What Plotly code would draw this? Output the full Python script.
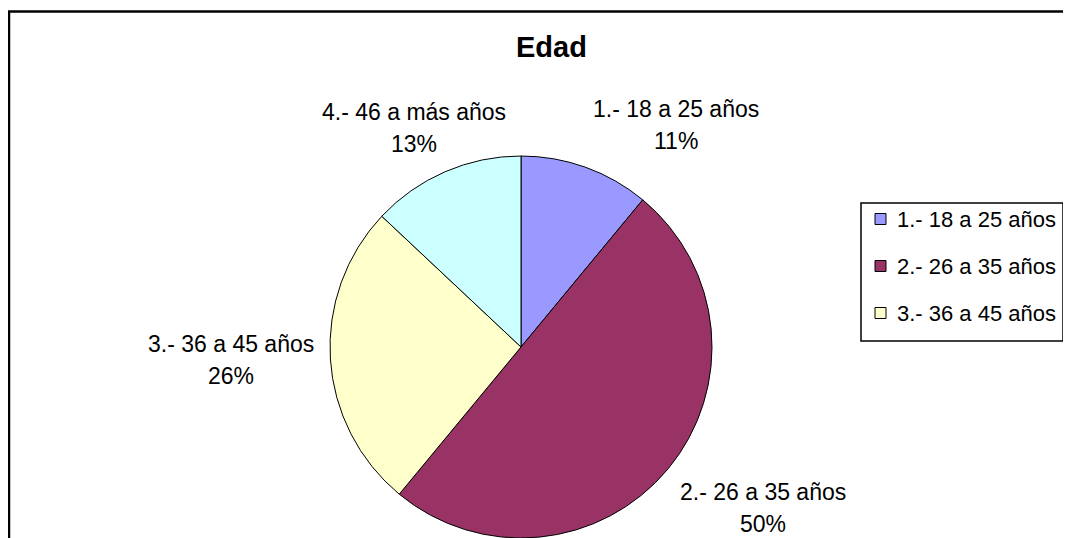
import math
import plotly.graph_objects as go

# ---- data ----
categories = ["1.- 18 a 25 años", "2.- 26 a 35 años", "3.- 36 a 45 años", "4.- 46 a más años"]
values = [11, 50, 26, 13]
colors = ["#9999FF", "#993366", "#FFFFCC", "#CCFFFF"]
title_text = "Edad"

# ---- layout constants (page pixels) ----
PAGE_W, PAGE_H = 1071, 538
OFF = 8                       # default body margin of the html page
W, H = PAGE_W - OFF, PAGE_H - OFF
CX, CY, R = 521, 347, 191
FONT = "Liberation Sans, Arial, sans-serif"
LABEL_SIZE = 23
LEGEND_SIZE = 22
TITLE_SIZE = 29
LINE_GAP = 32
LABEL_GAP = 20
# per-label nudges (dx, dy) from the mid-angle anchor point to the label block centre
label_nudge = [(84, -15), (79, 35), (-79, 8), (-23, -17)]
legend_shown = 3


def px(x):
    return (x - OFF) / W


def py(y):
    return 1 - (y - OFF) / H


fig = go.Figure()
fig.add_trace(go.Pie(
    labels=categories,
    values=values,
    sort=False,
    direction="clockwise",
    rotation=0,
    marker=dict(colors=colors, line=dict(color="black", width=1)),
    textinfo="none",
    hoverinfo="label+percent",
    showlegend=False,
    domain=dict(x=[px(CX - R), px(CX + R)], y=[0, (2 * R) / H]),
))

annotations = []
total = sum(values)
cum = 0
for i, (lab, v) in enumerate(zip(categories, values)):
    mid = (cum + v / 2) / total * 2 * math.pi
    cum += v
    ax = CX + (R + LABEL_GAP) * math.sin(mid) + label_nudge[i][0]
    ay = CY - (R + LABEL_GAP) * math.cos(mid) + label_nudge[i][1]
    pct = f"{round(v / total * 100)}%"
    for j, txt in enumerate([lab, pct]):
        base = ay + (j - 0.5) * LINE_GAP
        annotations.append(dict(
            x=px(ax), y=py(base - 0.35 * LABEL_SIZE), xref="paper", yref="paper",
            text=txt, showarrow=False, xanchor="center", yanchor="middle",
            font=dict(family=FONT, size=LABEL_SIZE, color="black"),
        ))

# title
annotations.append(dict(
    x=px(551), y=py(57 - 0.35 * TITLE_SIZE), xref="paper", yref="paper",
    text=f"<b>{title_text}</b>", showarrow=False, xanchor="center", yanchor="middle",
    font=dict(family=FONT, size=TITLE_SIZE, color="black"),
))

shapes = [
    # chart border
    dict(type="rect", xref="paper", yref="paper",
         x0=px(9), x1=px(PAGE_W + 20), y0=py(PAGE_H + 20), y1=py(11.5),
         line=dict(color="black", width=2.5), fillcolor="rgba(0,0,0,0)"),
    # legend box
    dict(type="rect", xref="paper", yref="paper",
         x0=px(861), x1=px(1063), y0=py(341), y1=py(203),
         line=dict(color="black", width=1.5), fillcolor="white"),
]

for i in range(legend_shown):
    yc = 219 + i * 47
    shapes.append(dict(type="rect", xref="paper", yref="paper",
                       x0=px(875), x1=px(886), y0=py(yc + 5.5), y1=py(yc - 5.5),
                       line=dict(color="black", width=1), fillcolor=colors[i]))
    annotations.append(dict(
        x=px(895), y=py(yc + 8 - 0.35 * LEGEND_SIZE), xref="paper", yref="paper",
        text=categories[i], showarrow=False, xanchor="left", yanchor="middle",
        font=dict(family=FONT, size=LEGEND_SIZE, color="black"),
    ))

fig.update_layout(
    width=W, height=H,
    margin=dict(l=0, r=0, t=0, b=0),
    paper_bgcolor="white",
    plot_bgcolor="white",
    annotations=annotations,
    shapes=shapes,
    showlegend=False,
)

fig.write_html("out.html")
